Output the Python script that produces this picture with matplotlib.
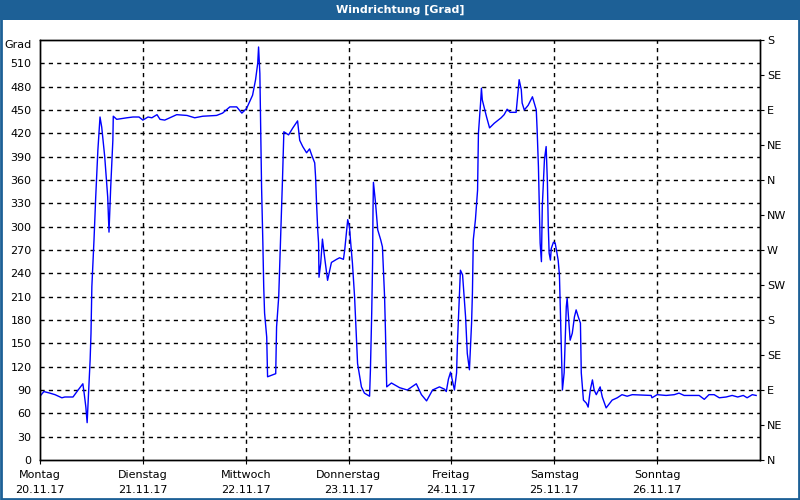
import matplotlib
matplotlib.use("Agg")
import matplotlib.pyplot as plt
from matplotlib.patches import Rectangle

# --- data: hours since Monday 00:00, wind direction in degrees ---
hours = [
    0, 0.9, 2.3, 3.5, 5.1, 5.8, 7.7, 8.9, 10.0, 10.3, 10.7, 11.0, 11.4, 11.7, 11.9,
    12.1, 12.6, 13.0, 13.5, 14.0, 14.4, 15.1, 15.8, 16.1, 16.5, 17.0, 17.1, 17.9,
    20.3, 21.7, 23.1, 24.0, 25.2, 26.1, 27.3, 28.0, 29.1, 30.3, 31.9, 34.3, 36.1,
    38.0, 41.2, 42.6, 44.3, 45.9, 47.1, 48.2, 49.6, 50.3, 50.8, 51.0, 51.3, 51.5,
    51.7, 52.0, 52.2, 52.4, 52.9, 53.1, 55.0, 55.2, 55.7, 56.2, 56.6, 56.9, 58.0,
    59.0, 60.1, 60.6, 61.3, 62.2, 62.9, 63.4, 64.1, 64.3, 64.5, 64.8, 65.0, 65.1,
    65.5, 65.9, 66.4, 66.9, 67.1, 68.0, 69.2, 69.9, 70.8, 71.1, 71.5, 71.8, 72.2,
    72.5, 72.9, 73.4, 73.9, 74.1, 74.6, 75.0, 75.7, 76.9, 77.1, 77.4, 77.6, 77.7,
    77.8, 78.3, 78.8, 79.5, 79.9, 80.4, 80.6, 80.9, 82.0, 83.9, 85.7, 87.8, 89.0,
    90.2, 91.6, 93.2, 94.4, 94.8, 95.3, 95.8, 96.2, 96.7, 97.2, 97.4, 98.1, 98.6,
    98.8, 99.3, 99.7, 100.2, 100.7, 100.9, 101.1, 101.6, 102.1, 102.3, 102.8,
    103.0, 103.2, 104.2, 104.9, 106.0, 107.6, 108.3, 109.0, 109.7, 111.1, 111.4,
    111.8, 112.3, 112.5, 113.0, 113.9, 114.9, 115.8, 116.0, 116.3, 116.5, 116.7,
    117.0, 117.2, 117.7, 118.1, 118.4, 118.6, 118.8, 119.1, 119.3, 119.8, 120.2,
    120.5, 120.9, 121.2, 121.4, 121.6, 121.9, 122.3, 122.6, 122.8, 123.0, 123.3,
    123.7, 124.2, 124.7, 125.1, 125.6, 126.1, 126.3, 126.8, 127.5, 127.9, 128.4,
    128.9, 129.3, 129.8, 130.7, 131.2, 132.1, 133.5, 134.7, 135.8, 137.0, 138.2,
    142.6, 142.8, 144.0, 146.1, 148.0, 149.1, 150.3, 153.8, 155.0, 156.1, 157.3,
    158.5, 160.1, 161.5, 162.8, 164.1, 165.0, 166.2, 167.1,
]
direction = [
    82, 88, 86, 84, 80, 81, 81, 90, 98, 86, 68, 48, 94, 129, 163,
    223, 283, 338, 398, 441, 428, 390, 338, 293, 351, 411, 442, 438,
    440, 441, 441, 437, 441, 440, 444, 438, 437, 440, 444, 443, 440,
    442, 443, 446, 454, 454, 446, 452, 469, 489, 510, 531, 497, 424,
    351, 279, 223, 189, 158, 107, 111, 171, 210, 296, 364, 422, 418,
    427, 436, 411, 403, 395, 400, 392, 382, 364, 334, 296, 279, 235,
    253, 284, 261, 240, 231, 254, 258, 260, 258, 270, 292, 309, 300,
    279, 253, 210, 150, 124, 107, 94, 86, 82, 116, 189, 253, 321,
    357, 330, 296, 283, 274, 210, 167, 94, 99, 93, 90, 98, 84,
    76, 90, 94, 91, 88, 104, 113, 103, 90, 112, 150, 244, 238,
    223, 184, 137, 116, 176, 215, 283, 309, 347, 420, 459,
    478, 463, 441, 427, 433, 440, 444, 451, 447, 447, 465,
    489, 476, 459, 450, 456, 467, 450, 424, 377, 326, 279,
    255, 326, 386, 403, 356, 300, 266, 257, 272, 280, 279,
    270, 257, 238, 197, 154, 90, 112, 163, 197, 208, 184,
    154, 163, 184, 193, 184, 176, 112, 77, 73, 68, 90,
    103, 90, 84, 94, 81, 67, 77, 80, 84, 82, 84,
    83, 80, 84, 83, 84, 86, 83, 83, 78, 84, 84,
    80, 81, 83, 81, 83, 80, 84, 83,
]

day_ticks = [0, 24, 48, 72, 96, 120, 144]
day_labels = ["Montag\n20.11.17", "Dienstag\n21.11.17", "Mittwoch\n22.11.17",
              "Donnerstag\n23.11.17", "Freitag\n24.11.17", "Samstag\n25.11.17",
              "Sonntag\n26.11.17"]
deg_ticks = list(range(0, 541, 30))
deg_labels = [str(v) for v in deg_ticks[:-1]] + ["Grad"]
compass_ticks = list(range(0, 541, 45))
compass_labels = ["N", "NE", "E", "SE", "S", "SW", "W", "NW", "N", "NE", "E", "SE", "S"]

bar_blue = "#1d6096"
plt.rcParams["font.family"] = "DejaVu Sans"

fig = plt.figure(figsize=(8, 5), dpi=100)
fig.patch.set_facecolor("white")

# title bar and frame
fig.patches.append(Rectangle((0, 0.96), 1, 0.04, transform=fig.transFigure,
                             facecolor=bar_blue, edgecolor="none", zorder=0))
fig.patches.append(Rectangle((0.001, 0.002), 0.998, 0.997, transform=fig.transFigure,
                             facecolor="none", edgecolor=bar_blue, lw=2, zorder=5))
fig.text(0.5, 0.98, "Windrichtung [Grad]", color="white", fontsize=8,
         fontweight="bold", ha="center", va="center")

ax = fig.add_axes([0.05, 0.08, 0.90, 0.84])
ax.plot(hours, direction, color="#0000ff", lw=1)
ax.set_xlim(0, 168)
ax.set_ylim(0, 540)

ax.set_yticks(deg_ticks)
ax.set_yticklabels(deg_labels)
ax.get_yticklabels()[-1].set_va("top")   # "Grad" sits just below the top edge
ax.set_xticks(day_ticks)
ax.set_xticklabels(day_labels, linespacing=1.6)
ax.tick_params(axis="y", length=0, labelsize=8, pad=6)
ax.tick_params(axis="x", length=3, direction="out", labelsize=8, pad=4)

for v in deg_ticks[1:-1]:
    ax.axhline(v, color="black", lw=1, ls=(0, (3, 3)), zorder=0)
for d in day_ticks[1:]:
    ax.axvline(d, color="black", lw=1, ls=(0, (3, 3)), zorder=0)

for s in ax.spines.values():
    s.set_color("black")
    s.set_linewidth(1)

ax2 = ax.twinx()
ax2.set_ylim(0, 540)
ax2.set_yticks(compass_ticks)
ax2.set_yticklabels(compass_labels)
ax2.tick_params(axis="y", length=3, direction="out", labelsize=8, pad=2)
for s in ax2.spines.values():
    s.set_linewidth(1)

fig.savefig("out.png", dpi=100)
